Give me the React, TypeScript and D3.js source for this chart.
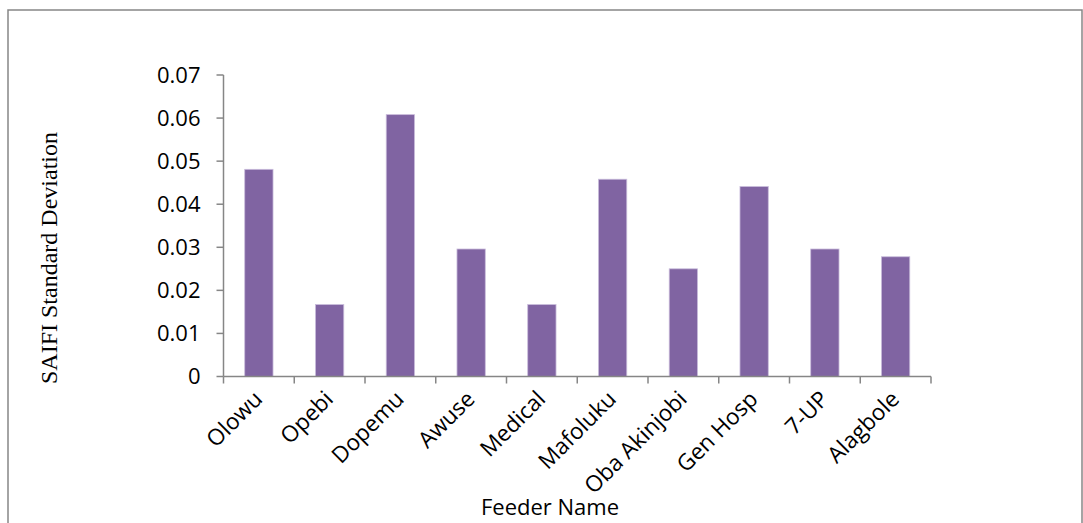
import React from "react";
import * as d3 from "d3";

const categories = ["Olowu", "Opebi", "Dopemu", "Awuse", "Medical", "Mafoluku", "Oba Akinjobi", "Gen Hosp", "7-UP", "Alagbole"];
const values = [0.0481, 0.0167, 0.0608, 0.0296, 0.0167, 0.0458, 0.025, 0.0441, 0.0296, 0.0278];
const yTicks = [0, 0.01, 0.02, 0.03, 0.04, 0.05, 0.06, 0.07];
const xTitle = "Feeder Name";
const yTitle = "SAIFI Standard Deviation";

const W = 1083;
const H = 523;
const left = 223.5;
const right = 931;
const top = 75;
const bottom = 376.5;
const axisColor = "#868686";
const font = "'Open Sans', sans-serif";

export default function App() {
  const x = d3.scaleBand<string>().domain(categories).range([left, right]).paddingInner(0.6).paddingOuter(0.3);
  const band = d3.scaleBand<string>().domain(categories).range([left, right]);
  const y = d3.scaleLinear().domain([0, 0.07]).range([bottom, top]);
  const step = band.step();
  return (
    <svg width={W} height={H} style={{ position: "absolute", left: 0, top: 0, background: "#fff" }}>
      <rect x={8} y={10} width={1074} height={540} fill="none" stroke={axisColor} strokeWidth={1.5} />
      {categories.map((c, i) => (
        <rect key={c} x={x(c)} y={y(values[i])} width={x.bandwidth()} height={bottom - y(values[i])}
          fill="#8064A2" stroke="#c9bcdb" strokeWidth={0.8} />
      ))}
      <line x1={left} x2={left} y1={top} y2={bottom} stroke={axisColor} strokeWidth={1.5} />
      {yTicks.map((t) => (
        <g key={t}>
          <line x1={left - 7} x2={left} y1={y(t)} y2={y(t)} stroke={axisColor} strokeWidth={1.5} />
          <text x={left - 23} y={y(t)} dy="0.35em" textAnchor="end" fontFamily={font} fontSize={22} fill="#000">
            {d3.format("")(t)}
          </text>
        </g>
      ))}
      <line x1={left} x2={right} y1={bottom} y2={bottom} stroke={axisColor} strokeWidth={1.5} />
      {categories.map((c) => (
        <line key={"t" + c} x1={band(c)!} x2={band(c)!} y1={bottom} y2={bottom + 7} stroke={axisColor} strokeWidth={1.5} />
      ))}
      <line x1={right} x2={right} y1={bottom} y2={bottom + 7} stroke={axisColor} strokeWidth={1.5} />
      {categories.map((c) => {
        const cx = band(c)! + step / 2 + 5;
        const cy = bottom + 24;
        return (
          <text key={"l" + c} x={cx} y={cy} textAnchor="end" fontFamily={font} fontSize={22.5} fill="#000"
            transform={`rotate(-45 ${cx} ${cy})`}>
            {c}
          </text>
        );
      })}
      <text x={550} y={515} textAnchor="middle" fontFamily={font} fontSize={22} fill="#000">{xTitle}</text>
      <text x={57} y={258} textAnchor="middle" fontFamily="'Liberation Serif', serif" fontSize={24} fill="#000"
        transform="rotate(-90 57 258)">{yTitle}</text>
    </svg>
  );
}
